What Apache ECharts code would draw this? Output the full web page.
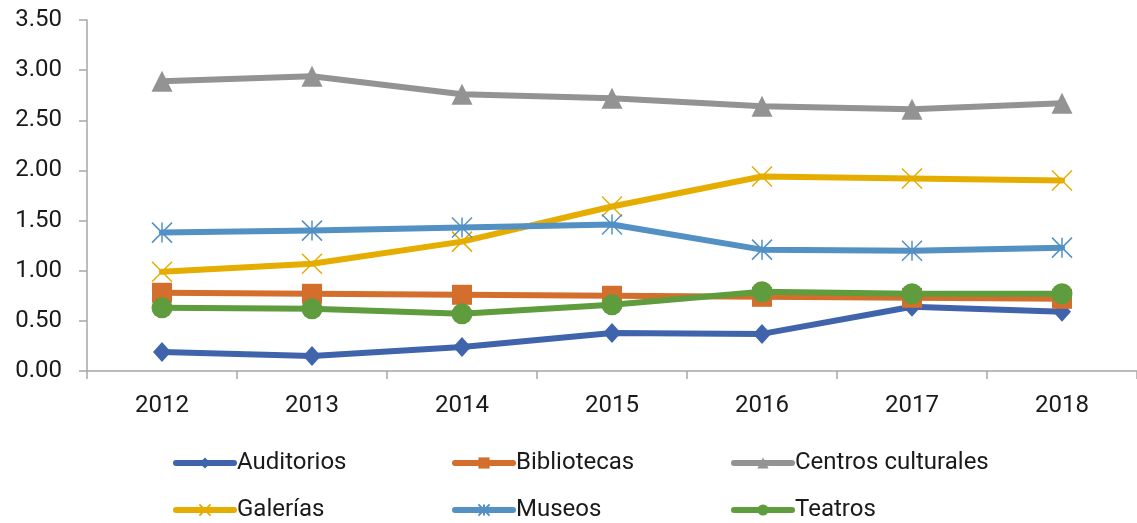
<!DOCTYPE html>
<html>
<head>
<meta charset="utf-8">
<script src="https://cdn.jsdelivr.net/npm/echarts@6/dist/echarts.min.js"></script>
<style>
  html, body { margin: 0; padding: 0; background: #fff; }
  #chart { width: 1137px; height: 523px; }
</style>
</head>
<body>
<div id="chart"></div>
<script>
const years = ['2012', '2013', '2014', '2015', '2016', '2017', '2018']
const yTicks = [0, 0.5, 1, 1.5, 2, 2.5, 3, 3.5]

const auditorios = [0.19, 0.15, 0.24, 0.38, 0.37, 0.64, 0.59]
const bibliotecas = [0.78, 0.77, 0.76, 0.75, 0.74, 0.73, 0.72]
const centros = [2.89, 2.94, 2.76, 2.72, 2.64, 2.61, 2.67]
const galerias = [0.99, 1.07, 1.29, 1.64, 1.94, 1.92, 1.90]
const museos = [1.38, 1.40, 1.43, 1.46, 1.21, 1.20, 1.23]
const teatros = [0.63, 0.62, 0.57, 0.66, 0.79, 0.77, 0.77]

const font = 'Roboto, "Liberation Sans", sans-serif'
const crossPath = 'path://M0,0 L20,20 M20,0 L0,20'
const starPath = 'path://M0,0 L20,20 M20,0 L0,20 M10,0 L10,20'

const seriesDefs = [
  { name: 'Auditorios', data: auditorios, color: '#3F64AC', symbol: 'diamond', size: [18, 20] },
  { name: 'Bibliotecas', data: bibliotecas, color: '#D46E2C', symbol: 'rect', size: 20 },
  { name: 'Centros culturales', data: centros, color: '#939393', symbol: 'triangle', size: 21 },
  { name: 'Galerías', data: galerias, color: '#E4AD00', symbol: crossPath, size: 20, stroke: true },
  { name: 'Museos', data: museos, color: '#5390C3', symbol: starPath, size: 20, stroke: true },
  { name: 'Teatros', data: teatros, color: '#5F9C3D', symbol: 'circle', size: 21 }
]

// legend slots: column left, row top
const legendCols = [173, 452, 731]
const legendRows = [451, 498]

const chart = echarts.init(document.getElementById('chart'))

const series = seriesDefs.map(s => ({
  name: s.name,
  type: 'line',
  data: s.data,
  symbol: s.symbol,
  symbolSize: s.size,
  showAllSymbol: true,
  lineStyle: { color: s.color, width: 6, cap: 'round', join: 'round' },
  itemStyle: s.stroke
    ? { color: 'rgba(0,0,0,0)', borderColor: s.color, borderWidth: 1.5 }
    : { color: s.color, borderWidth: 0 },
  emphasis: { disabled: true },
  animation: false
}))

const legends = seriesDefs.map((s, i) => ({
  left: legendCols[i % 3],
  top: legendRows[Math.floor(i / 3)],
  padding: 0,
  data: [s.name],
  itemWidth: 58,
  itemHeight: 14,
  itemGap: 0,
  lineStyle: { width: 6, cap: 'round' },
  textStyle: { fontFamily: font, fontSize: 24, color: '#1a1a1a', padding: [0, 0, 0, -2] },
  selectedMode: false
}))

chart.setOption({
  backgroundColor: '#ffffff',
  animation: false,
  grid: { left: 87, right: -5, top: 20, bottom: 152 },
  legend: legends,
  xAxis: {
    type: 'category',
    data: years,
    boundaryGap: true,
    axisLine: { lineStyle: { color: '#A6A6A6', width: 1.5 } },
    axisTick: { show: true, length: 8, lineStyle: { color: '#A6A6A6', width: 1.5 } },
    axisLabel: { fontFamily: font, fontSize: 24, color: '#1a1a1a', margin: 23 }
  },
  yAxis: {
    type: 'value',
    min: yTicks[0],
    max: yTicks[yTicks.length - 1],
    interval: 0.5,
    axisLine: { show: true, lineStyle: { color: '#A6A6A6', width: 1.5 } },
    axisTick: { show: true, length: 8, lineStyle: { color: '#A6A6A6', width: 1.5 } },
    splitLine: { show: false },
    axisLabel: {
      fontFamily: font,
      fontSize: 24,
      color: '#1a1a1a',
      margin: 25,
      formatter: v => v.toFixed(2)
    }
  },
  series
})
</script>
</body>
</html>
